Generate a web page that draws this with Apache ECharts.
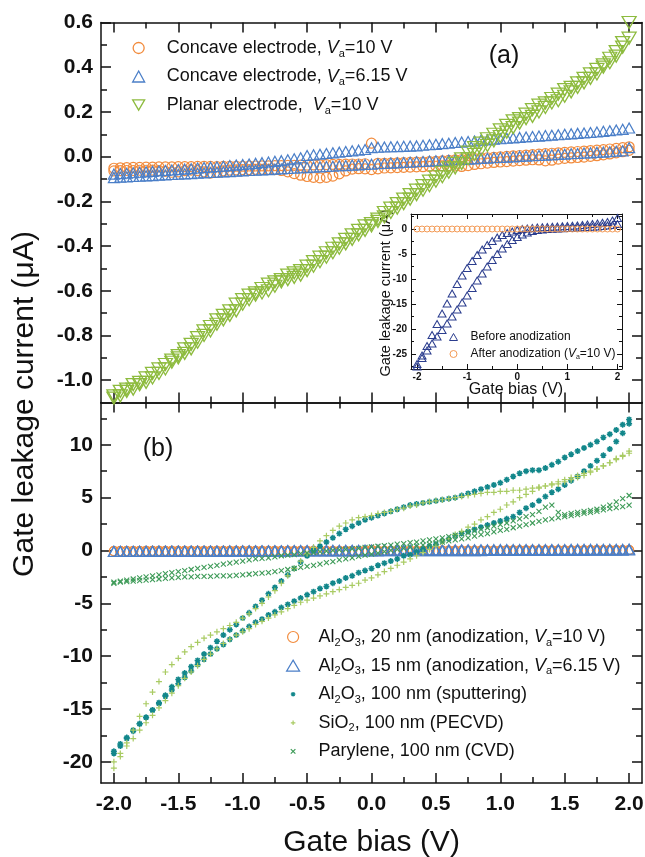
<!DOCTYPE html>
<html>
<head>
<meta charset="utf-8">
<script src="https://cdn.jsdelivr.net/npm/echarts@6/dist/echarts.min.js"></script>
<style>
  html, body { margin: 0; padding: 0; background: #fff; }
  #chart { width: 645px; height: 857px; }
</style>
</head>
<body>
<div id="chart"></div>
<script>
// Gate bias sweep (V), 0.05 V step
const BIAS = [
  -2.00,-1.95,-1.90,-1.85,-1.80,-1.75,-1.70,-1.65,-1.60,-1.55,
  -1.50,-1.45,-1.40,-1.35,-1.30,-1.25,-1.20,-1.15,-1.10,-1.05,
  -1.00,-0.95,-0.90,-0.85,-0.80,-0.75,-0.70,-0.65,-0.60,-0.55,
  -0.50,-0.45,-0.40,-0.35,-0.30,-0.25,-0.20,-0.15,-0.10,-0.05,
   0.00, 0.05, 0.10, 0.15, 0.20, 0.25, 0.30, 0.35, 0.40, 0.45,
   0.50, 0.55, 0.60, 0.65, 0.70, 0.75, 0.80, 0.85, 0.90, 0.95,
   1.00, 1.05, 1.10, 1.15, 1.20, 1.25, 1.30, 1.35, 1.40, 1.45,
   1.50, 1.55, 1.60, 1.65, 1.70, 1.75, 1.80, 1.85, 1.90, 1.95,
   2.00
];

// (a) Concave electrode, Va = 10 V (uA), forward / reverse sweeps
const CONCAVE_10V_FWD = [
  -0.052,-0.050,-0.049,-0.048,-0.048,-0.047,-0.047,-0.046,-0.046,-0.046,
  -0.045,-0.045,-0.045,-0.044,-0.044,-0.044,-0.045,-0.044,-0.043,-0.043,
  -0.043,-0.042,-0.042,-0.041,-0.041,-0.040,-0.040,-0.039,-0.039,-0.038,
  -0.038,-0.037,-0.037,-0.036,-0.035,-0.035,-0.034,-0.033,-0.033,-0.032,
   0.060,-0.030,-0.030,-0.029,-0.028,-0.027,-0.026,-0.025,-0.024,-0.022,
  -0.021,-0.019,-0.017,-0.015,-0.013,-0.011,-0.009,-0.007,-0.005,-0.003,
  -0.001, 0.001, 0.003, 0.005, 0.007, 0.009, 0.011, 0.013, 0.015, 0.017,
   0.019, 0.021, 0.023, 0.025, 0.027, 0.029, 0.031, 0.034, 0.037, 0.040,
   0.044
];
const CONCAVE_10V_REV = [
  -0.064,-0.063,-0.062,-0.062,-0.061,-0.061,-0.060,-0.062,-0.066,-0.070,
  -0.068,-0.063,-0.060,-0.063,-0.068,-0.074,-0.071,-0.064,-0.060,-0.059,
  -0.058,-0.058,-0.057,-0.057,-0.057,-0.058,-0.062,-0.068,-0.076,-0.083,
  -0.089,-0.093,-0.095,-0.093,-0.087,-0.077,-0.064,-0.056,-0.054,-0.055,
  -0.058,-0.055,-0.051,-0.050,-0.049,-0.048,-0.047,-0.046,-0.045,-0.044,
  -0.043,-0.041,-0.040,-0.042,-0.044,-0.040,-0.035,-0.032,-0.029,-0.026,
  -0.024,-0.022,-0.020,-0.018,-0.016,-0.014,-0.015,-0.019,-0.016,-0.011,
  -0.008,-0.006,-0.004,-0.002, 0.001, 0.004, 0.008, 0.012, 0.017, 0.022,
   0.028
];

// (a) Concave electrode, Va = 6.15 V (uA)
const CONCAVE_615V_FWD = [
  -0.078,-0.076,-0.074,-0.072,-0.070,-0.068,-0.066,-0.064,-0.062,-0.060,
  -0.058,-0.056,-0.054,-0.051,-0.049,-0.047,-0.045,-0.043,-0.040,-0.038,
  -0.035,-0.033,-0.030,-0.027,-0.024,-0.021,-0.018,-0.014,-0.010,-0.005,
   0.005, 0.008, 0.011, 0.014, 0.017, 0.020, 0.023, 0.026, 0.029, 0.032,
   0.040, 0.042, 0.043, 0.044, 0.045, 0.046, 0.047, 0.048, 0.051, 0.053,
   0.055, 0.058, 0.060, 0.063, 0.065, 0.068, 0.070, 0.073, 0.075, 0.078,
   0.080, 0.082, 0.084, 0.086, 0.088, 0.090, 0.092, 0.094, 0.096, 0.098,
   0.100, 0.102, 0.104, 0.106, 0.108, 0.110, 0.113, 0.116, 0.119, 0.122,
   0.128
];
const CONCAVE_615V_REV = [
  -0.094,-0.092,-0.091,-0.089,-0.088,-0.086,-0.085,-0.083,-0.082,-0.080,
  -0.079,-0.077,-0.076,-0.074,-0.073,-0.071,-0.070,-0.068,-0.067,-0.065,
  -0.064,-0.062,-0.061,-0.059,-0.058,-0.056,-0.055,-0.053,-0.052,-0.050,
  -0.049,-0.047,-0.046,-0.044,-0.043,-0.041,-0.040,-0.038,-0.037,-0.035,
  -0.034,-0.032,-0.031,-0.029,-0.028,-0.026,-0.025,-0.023,-0.022,-0.020,
  -0.019,-0.017,-0.016,-0.014,-0.013,-0.011,-0.010,-0.008,-0.007,-0.005,
  -0.004,-0.002,-0.001, 0.001, 0.002, 0.004, 0.005, 0.007, 0.008, 0.010,
   0.011, 0.013, 0.014, 0.016, 0.017, 0.019, 0.020, 0.022, 0.024, 0.026,
   0.040
];

// (a) Planar electrode, Va = 10 V (uA)
const PLANAR_10V_FWD = [
  -1.07,-1.05,-1.04,-1.02,-1.01,-0.99,-0.97,-0.95,-0.93,-0.91,
  -0.89,-0.86,-0.84,-0.81,-0.78,-0.76,-0.73,-0.71,-0.69,-0.66,
  -0.64,-0.62,-0.61,-0.59,-0.57,-0.56,-0.55,-0.53,-0.52,-0.51,
  -0.49,-0.47,-0.45,-0.43,-0.41,-0.39,-0.37,-0.35,-0.33,-0.31,
  -0.30,-0.28,-0.25,-0.23,-0.21,-0.19,-0.17,-0.15,-0.13,-0.11,
  -0.09,-0.07,-0.05,-0.03,-0.01, 0.02, 0.04, 0.06, 0.08, 0.10,
   0.12, 0.14, 0.16, 0.17, 0.19, 0.21, 0.23, 0.24, 0.26, 0.28,
   0.30, 0.31, 0.33, 0.35, 0.37, 0.39, 0.41, 0.44, 0.47, 0.51,
   0.60
];
const PLANAR_10V_REV = [
  -1.08,-1.07,-1.05,-1.04,-1.02,-1.01,-0.99,-0.97,-0.95,-0.92,
  -0.90,-0.88,-0.86,-0.83,-0.80,-0.78,-0.75,-0.73,-0.71,-0.69,
  -0.66,-0.64,-0.62,-0.61,-0.60,-0.58,-0.56,-0.55,-0.54,-0.53,
  -0.51,-0.49,-0.47,-0.45,-0.43,-0.41,-0.39,-0.37,-0.35,-0.33,
  -0.31,-0.29,-0.27,-0.25,-0.23,-0.21,-0.19,-0.17,-0.15,-0.13,
  -0.11,-0.09,-0.07,-0.05,-0.03,-0.01, 0.01, 0.03, 0.05, 0.07,
   0.09, 0.11, 0.13, 0.15, 0.17, 0.18, 0.20, 0.22, 0.24, 0.25,
   0.27, 0.29, 0.31, 0.33, 0.35, 0.37, 0.40, 0.42, 0.45, 0.49,
   0.53
];

// (b) Al2O3 100 nm, sputtering (uA)
const SPUTTER_FWD = [
  -19.2,-18.5,-17.8,-17.1,-16.4,-15.8,-15.1,-14.4,-13.7,-12.9,
  -12.2,-11.6,-11.0,-10.4, -9.8, -9.2, -8.6, -8.0, -7.5, -7.0,
   -6.4, -5.9, -5.3, -4.7, -4.1, -3.5, -2.9, -2.3, -1.7, -1.1,
   -0.5,  0.0,  0.4,  0.8,  1.2,  1.6,  2.0,  2.3,  2.6,  2.9,
    3.1,  3.3,  3.5,  3.7,  3.9,  4.1,  4.3,  4.4,  4.5,  4.6,
    4.7,  4.8,  4.9,  5.0,  5.2,  5.4,  5.6,  5.8,  6.0,  6.2,
    6.4,  6.7,  7.0,  7.3,  7.5,  7.6,  7.6,  7.8,  8.1,  8.4,
    8.8,  9.1,  9.4,  9.7, 10.0, 10.3, 10.7, 11.0, 11.4, 11.9,
   12.4
];
const SPUTTER_REV = [
  -19.0,-18.3,-17.7,-17.0,-16.4,-15.8,-15.1,-14.5,-13.8,-13.2,
  -12.6,-12.0,-11.4,-10.8,-10.3, -9.8, -9.3, -8.9, -8.4, -8.0,
   -7.6, -7.2, -6.8, -6.5, -6.1, -5.8, -5.4, -5.1, -4.8, -4.5,
   -4.2, -3.9, -3.6, -3.4, -3.1, -2.9, -2.6, -2.4, -2.1, -1.9,
   -1.7, -1.4, -1.2, -1.0, -0.8, -0.5, -0.4, -0.1,  0.1,  0.4,
    0.6,  0.9,  1.1,  1.4,  1.6,  1.8,  2.0,  2.2,  2.4,  2.6,
    2.8,  3.0,  3.2,  3.6,  4.0,  4.3,  4.7,  5.1,  5.5,  5.8,
    6.2,  6.6,  7.0,  7.5,  8.0,  8.5,  9.0,  9.6, 10.3, 11.1,
   12.0
];

// (b) SiO2 100 nm, PECVD (uA)
const SIO2_FWD = [
  -20.6,-19.5,-18.2,-17.0,-15.7,-14.5,-13.4,-12.4,-11.5,-10.8,
  -10.2, -9.6, -9.1, -8.7, -8.3, -8.0, -7.7, -7.4, -7.1, -6.8,
   -6.4, -6.0, -5.5, -5.0, -4.4, -3.8, -3.1, -2.4, -1.7, -1.0,
   -0.3,  0.3,  0.9,  1.4,  1.9,  2.3,  2.6,  2.9,  3.1,  3.2,
    3.3,  3.5,  3.6,  3.7,  3.9,  4.0,  4.2,  4.3,  4.5,  4.6,
    4.7,  4.8,  4.9,  5.0,  5.1,  5.2,  5.3,  5.4,  5.5,  5.5,
    5.6,  5.6,  5.7,  5.7,  5.8,  5.9,  6.0,  6.1,  6.2,  6.3,
    6.5,  6.7,  6.9,  7.1,  7.4,  7.7,  8.0,  8.3,  8.7,  9.0,
    9.4
];
const SIO2_REV = [
  -20.0,-19.2,-18.5,-17.8,-17.0,-16.3,-15.6,-14.9,-14.2,-13.5,
  -12.8,-12.1,-11.5,-10.9,-10.3, -9.8, -9.3, -8.8, -8.4, -8.0,
   -7.7, -7.4, -7.0, -6.7, -6.4, -6.1, -5.8, -5.5, -5.2, -4.9,
   -4.7, -4.5, -4.3, -4.1, -3.9, -3.7, -3.5, -3.3, -3.1, -2.8,
   -2.6, -2.3, -2.0, -1.7, -1.4, -1.1, -0.8, -0.5, -0.2,  0.1,
    0.4,  0.8,  1.1,  1.5,  1.8,  2.2,  2.5,  2.9,  3.2,  3.6,
    3.9,  4.3,  4.6,  5.0,  5.3,  5.6,  5.9,  6.1,  6.3,  6.5,
    6.7,  6.9,  7.1,  7.3,  7.5,  7.7,  8.0,  8.3,  8.6,  8.9,
    9.2
];

// (b) Parylene 100 nm, CVD (uA)
const PARYLENE_FWD = [
  -3.0, -2.9, -2.8, -2.7, -2.6, -2.5, -2.4, -2.3, -2.2, -2.1,
  -2.0, -1.9, -1.8, -1.7, -1.6, -1.5, -1.4, -1.3, -1.2, -1.1,
  -1.0, -0.9, -0.8, -0.75,-0.7, -0.6, -0.5, -0.45,-0.4, -0.3,
  -0.25,-0.2, -0.1, -0.05, 0.0,  0.05, 0.1,  0.15, 0.2,  0.3,
   0.35, 0.4,  0.45, 0.5,  0.6,  0.65, 0.75, 0.8,  0.9,  1.0,
   1.1,  1.2,  1.3,  1.45, 1.6,  1.7,  1.85, 2.0,  2.15, 2.3,
   2.45, 2.6,  2.8,  3.0,  3.2,  3.4,  3.7,  4.1,  4.3,  3.6,
   3.4,  3.5,  3.6,  3.7,  3.8,  3.9,  4.1,  4.3,  4.6,  4.9,
   5.2
];
const PARYLENE_REV = [
  -3.1, -3.0, -2.95,-2.9, -2.85,-2.8, -2.75,-2.7, -2.65,-2.6,
  -2.55,-2.5, -2.5, -2.45,-2.45,-2.45,-2.4, -2.4, -2.4, -2.35,
  -2.3, -2.25,-2.2, -2.15,-2.1, -2.0, -1.9, -1.8, -1.7, -1.6,
  -1.5, -1.4, -1.3, -1.15,-1.05,-0.9, -0.8, -0.7, -0.55,-0.45,
  -0.35,-0.25,-0.1,  0.0,  0.1,  0.2,  0.3,  0.4,  0.5,  0.6,
   0.7,  0.8,  0.9,  1.0,  1.1,  1.2,  1.35, 1.5,  1.6,  1.75,
   1.9,  2.0,  2.15, 2.3,  2.45, 2.6,  2.75, 2.9,  3.0,  3.1,
   3.2,  3.3,  3.4,  3.5,  3.6,  3.7,  3.85, 3.95, 4.05, 4.15,
   4.3
];

// Inset: bias sweep with 0.1 V step
const INSET_BIAS = [
  -2.0,-1.9,-1.8,-1.7,-1.6,-1.5,-1.4,-1.3,-1.2,-1.1,
  -1.0,-0.9,-0.8,-0.7,-0.6,-0.5,-0.4,-0.3,-0.2,-0.1,
   0.0, 0.1, 0.2, 0.3, 0.4, 0.5, 0.6, 0.7, 0.8, 0.9,
   1.0, 1.1, 1.2, 1.3, 1.4, 1.5, 1.6, 1.7, 1.8, 1.9,
   2.0
];
const INSET_BEFORE_FWD = [
  -27.0,-25.3,-23.4,-21.2,-19.0,-16.9,-14.9,-12.9,-11.0, -9.3,
   -7.8, -6.4, -5.2, -4.1, -3.2, -2.4, -1.7, -1.2, -0.8, -0.5,
   -0.2,  0.0,  0.1,  0.2,  0.3,  0.35, 0.4,  0.45, 0.5,  0.55,
    0.6,  0.65, 0.7,  0.8,  0.9,  1.0,  1.1,  1.25, 1.4,  1.7,
    2.2
];
const INSET_BEFORE_REV = [
  -27.5,-25.8,-24.3,-22.9,-21.5,-20.2,-18.9,-17.5,-16.1,-14.7,
  -13.3,-11.8,-10.3, -8.9, -7.5, -6.2, -5.0, -3.9, -3.0, -2.2,
   -1.6, -1.1, -0.7, -0.4, -0.2, -0.1,  0.0,  0.05, 0.1,  0.15,
    0.2,  0.25, 0.3,  0.35, 0.4,  0.45, 0.5,  0.6,  0.7,  0.8,
    1.0
];
const INSET_AFTER = [
  0.0, 0.0, 0.0, 0.0, 0.0, 0.0, 0.0, 0.0, 0.0, 0.0,
  0.0, 0.0, 0.0, 0.0, 0.0, 0.0, 0.0, 0.0, 0.0, 0.0,
  0.0, 0.0, 0.0, 0.0, 0.0, 0.0, 0.0, 0.0, 0.0, 0.0,
  0.0, 0.0, 0.0, 0.0, 0.0, 0.0, 0.0, 0.0, 0.0, 0.0,
  0.0
];

// Tick positions
const X_MAJOR = [-2.0, -1.5, -1.0, -0.5, 0.0, 0.5, 1.0, 1.5, 2.0];
const X_MINOR = [-1.75, -1.25, -0.75, -0.25, 0.25, 0.75, 1.25, 1.75];
const TOP_Y_MAJOR = [-1.0, -0.8, -0.6, -0.4, -0.2, 0.0, 0.2, 0.4, 0.6];
const TOP_Y_MINOR = [-0.9, -0.7, -0.5, -0.3, -0.1, 0.1, 0.3, 0.5];
const BOT_Y_MAJOR = [-20, -15, -10, -5, 0, 5, 10];
const BOT_Y_MINOR = [-17.5, -12.5, -7.5, -2.5, 2.5, 7.5, 12.5];
const INSET_X_MAJOR = [-2, -1, 0, 1, 2];
const INSET_X_MINOR = [-1.5, -0.5, 0.5, 1.5];
const INSET_Y_MAJOR = [-25, -20, -15, -10, -5, 0];
const INSET_Y_MINOR = [-27.5, -22.5, -17.5, -12.5, -7.5, -2.5, 2.5];

const FONT = '"Liberation Sans", Arial, Helvetica, sans-serif';
const INK = '#111111';
const COL = {
  orange: '#F28B3C',
  blue: '#4B7FC8',
  green: '#8DBB3E',
  teal: '#12878B',
  sio2: '#A9CB63',
  parylene: '#3E9B58',
  navy: '#2B3D8E',
  orangeLight: '#F39A55'
};
const SYM = {
  down: 'path://M0,0L10,0L5,8.66Z',
  star: 'path://M0,5L10,5M5,0L5,10M1.5,1.5L8.5,8.5M1.5,8.5L8.5,1.5',
  plus: 'path://M0,5L10,5M5,0L5,10',
  cross: 'path://M0,0L10,10M0,10L10,0'
};
// legend icons for the small markers keep empty room round the glyph
const ICON = {
  star: 'path://M-7,-7M17,17M0,5L10,5M5,0L5,10M1.5,1.5L8.5,8.5M1.5,8.5L8.5,1.5',
  plus: 'path://M-7,-7M17,17M0,5L10,5M5,0L5,10',
  cross: 'path://M-7,-7M17,17M0,0L10,10M0,10L10,0'
};

const xAxes = [];
const yAxes = [];

// Boxed frame with inward major/minor ticks on all four sides
function addFrame(gi, xr, yr, s) {
  const line = show => ({ show, onZero: false, lineStyle: { color: INK, width: s.lw } });
  const tick = (vals, len) => ({ show: true, inside: true, length: len, customValues: vals,
    lineStyle: { color: INK, width: s.lw } });
  const label = (vals, cfg) => cfg
    ? Object.assign({ show: true, customValues: vals, color: INK, fontFamily: FONT, fontWeight: 'bold' }, cfg)
    : { show: false };
  const common = { type: 'value', gridIndex: gi, splitLine: { show: false }, offset: 0, silent: true };
  const ix = xAxes.length, iy = yAxes.length;
  [['bottom', s.xMajor, s.major, s.xLabel, true],
   ['bottom', s.xMinor, s.minor, null, false],
   ['top', s.xMajor, s.major, null, true],
   ['top', s.xMinor, s.minor, null, false]].forEach(([pos, vals, len, lab, showLine]) => {
    xAxes.push(Object.assign({}, common, { min: xr[0], max: xr[1], position: pos,
      axisLine: line(showLine), axisTick: tick(vals, len), axisLabel: label(vals, lab) }));
  });
  [['left', s.yMajor, s.major, s.yLabel, true],
   ['left', s.yMinor, s.minor, null, false],
   ['right', s.yMajor, s.major, null, true],
   ['right', s.yMinor, s.minor, null, false]].forEach(([pos, vals, len, lab, showLine]) => {
    yAxes.push(Object.assign({}, common, { min: yr[0], max: yr[1], position: pos,
      axisLine: line(showLine), axisTick: tick(vals, len), axisLabel: label(vals, lab) }));
  });
  return { x: ix, y: iy };
}

const fmt1 = v => Number(v).toFixed(1);
const fmt0 = v => String(Math.round(v));

const topAx = addFrame(0, [-2.1, 2.1], [-1.1, 0.6], {
  lw: 1.5, major: 10, minor: 6,
  xMajor: X_MAJOR, xMinor: X_MINOR, yMajor: TOP_Y_MAJOR, yMinor: TOP_Y_MINOR,
  xLabel: null,
  yLabel: { fontSize: 21, margin: 8, formatter: fmt1 }
});
const botAx = addFrame(1, [-2.1, 2.1], [-22, 14], {
  lw: 1.5, major: 10, minor: 6,
  xMajor: X_MAJOR, xMinor: X_MINOR, yMajor: BOT_Y_MAJOR, yMinor: BOT_Y_MINOR,
  xLabel: { fontSize: 21, margin: 11, formatter: fmt1 },
  yLabel: { fontSize: 21, margin: 8, formatter: fmt0 }
});
const insAx = addFrame(2, [-2.12, 2.09], [-28, 3], {
  lw: 1, major: 5, minor: 3,
  xMajor: INSET_X_MAJOR, xMinor: INSET_X_MINOR, yMajor: INSET_Y_MAJOR, yMinor: INSET_Y_MINOR,
  xLabel: { fontSize: 10, margin: 3, formatter: fmt0 },
  yLabel: { fontSize: 10, margin: 4, formatter: fmt0 }
});

function sweep(xs, fwd, rev) {
  const pts = xs.map((x, i) => [x, fwd[i]]);
  return rev ? pts.concat(xs.map((x, i) => [x, rev[i]])) : pts;
}
function scatter(name, ax, data, symbol, size, color, bw) {
  return {
    type: 'scatter', name, xAxisIndex: ax.x, yAxisIndex: ax.y, data,
    symbol, symbolSize: size, silent: true,
    itemStyle: { color: 'transparent', borderColor: color, borderWidth: bw, opacity: 1 }
  };
}

const N = {
  a1: 'Concave electrode, Va=10 V',
  a2: 'Concave electrode, Va=6.15 V',
  a3: 'Planar electrode, Va=10 V',
  b1: 'Al2O3, 20 nm (anodization, Va=10 V)',
  b2: 'Al2O3, 15 nm (anodization, Va=6.15 V)',
  b3: 'Al2O3, 100 nm (sputtering)',
  b4: 'SiO2, 100 nm (PECVD)',
  b5: 'Parylene, 100 nm (CVD)',
  i1: 'Before anodization',
  i2: 'After anodization (Va=10 V)'
};
const RICH_LABEL = {
  [N.a1]: '{sp| }{n|Concave electrode, }{it|V}{sub|a}{n|=10 V}',
  [N.a2]: '{sp| }{n|Concave electrode, }{it|V}{sub|a}{n|=6.15 V}',
  [N.a3]: '{sp| }{n|Planar electrode,  }{it|V}{sub|a}{n|=10 V}',
  [N.b1]: '{sp| }{n|Al}{sub|2}{n|O}{sub|3}{n|, 20 nm (anodization, }{it|V}{sub|a}{n|=10 V)}',
  [N.b2]: '{sp| }{n|Al}{sub|2}{n|O}{sub|3}{n|, 15 nm (anodization, }{it|V}{sub|a}{n|=6.15 V)}',
  [N.b3]: '{sp| }{n|Al}{sub|2}{n|O}{sub|3}{n|, 100 nm (sputtering)}',
  [N.b4]: '{sp| }{n|SiO}{sub|2}{n|, 100 nm (PECVD)}',
  [N.b5]: '{sp| }{n|Parylene, 100 nm (CVD)}',
  [N.i1]: '{sp| }{n|Before anodization}',
  [N.i2]: '{sp| }{n|After anodization (}{it|V}{sub|a}{n|=10 V)}'
};
function rich(size, lh, spacer) {
  const sub = Math.round(size * 0.6);
  return {
    sp: { width: spacer, fontSize: size, lineHeight: lh },
    n: { fontSize: size, lineHeight: lh, fontFamily: FONT, color: INK },
    it: { fontSize: size, lineHeight: lh, fontFamily: FONT, fontStyle: 'italic', color: INK },
    sub: { fontSize: sub, lineHeight: sub, fontFamily: FONT, color: INK, verticalAlign: 'bottom' }
  };
}
function legend(names, left, top, iw, ih, gap, size, lh, spacer, bw, icons) {
  return {
    orient: 'vertical', left, top, itemWidth: iw, itemHeight: ih, itemGap: gap,
    selectedMode: false, padding: 0,
    data: names.map(n => icons && icons[n] ? { name: n, icon: icons[n] } : { name: n }),
    formatter: n => RICH_LABEL[n],
    itemStyle: { borderWidth: bw },
    textStyle: { fontFamily: FONT, fontSize: size, lineHeight: lh, color: INK, rich: rich(size, lh, spacer) }
  };
}

const series = [
  scatter(N.a1, topAx, sweep(BIAS, CONCAVE_10V_FWD, CONCAVE_10V_REV), 'circle', 10, COL.orange, 1.2),
  scatter(N.a2, topAx, sweep(BIAS, CONCAVE_615V_FWD, CONCAVE_615V_REV), 'triangle', [11, 10], COL.blue, 1.2),
  scatter(N.a3, topAx, sweep(BIAS, PLANAR_10V_FWD, PLANAR_10V_REV), SYM.down, [14, 12], COL.green, 1.3),
  scatter(N.b1, botAx, sweep(BIAS, CONCAVE_10V_FWD, CONCAVE_10V_REV), 'circle', 9, COL.orange, 1.2),
  scatter(N.b2, botAx, sweep(BIAS, CONCAVE_615V_FWD, CONCAVE_615V_REV), 'triangle', [11, 10], COL.blue, 1.2),
  scatter(N.b3, botAx, sweep(BIAS, SPUTTER_FWD, SPUTTER_REV), SYM.star, 6, COL.teal, 1.5),
  scatter(N.b4, botAx, sweep(BIAS, SIO2_FWD, SIO2_REV), SYM.plus, 6, COL.sio2, 1.2),
  scatter(N.b5, botAx, sweep(BIAS, PARYLENE_FWD, PARYLENE_REV), SYM.cross, 5, COL.parylene, 1.1),
  scatter(N.i1, insAx, sweep(INSET_BIAS, INSET_BEFORE_FWD, INSET_BEFORE_REV), 'triangle', [8, 7], COL.navy, 1),
  scatter(N.i2, insAx, sweep(INSET_BIAS, INSET_AFTER), 'circle', 6, COL.orangeLight, 1)
];

const text = (x, y, str, size, rot) => ({
  type: 'text', x, y, rotation: rot || 0, silent: true,
  style: { text: str, font: size + 'px ' + FONT, fill: INK, align: 'center', verticalAlign: 'middle' }
});

const chart = echarts.init(document.getElementById('chart'), null, { renderer: 'canvas' });
chart.setOption({
  animation: false,
  backgroundColor: '#ffffff',
  grid: [
    { left: 101, top: 22.5, width: 541, height: 380, outerBoundsMode: 'none' },
    { left: 101, top: 402.5, width: 541, height: 380.5, outerBoundsMode: 'none' },
    { left: 411, top: 214, width: 211, height: 155, outerBoundsMode: 'none',
      show: true, backgroundColor: '#ffffff', borderWidth: 0 }
  ],
  xAxis: xAxes,
  yAxis: yAxes,
  legend: [
    legend([N.a1, N.a2, N.a3], 132, 37, 12, 11, 6.5, 18, 22, 17, 1.3),
    legend([N.b1, N.b2, N.b3, N.b4, N.b5], 286, 626, 13, 11, 6.6, 18, 22, 14, 1.2,
      { [N.b3]: ICON.star, [N.b4]: ICON.plus, [N.b5]: ICON.cross }),
    legend([N.i1, N.i2], 449, 330, 8, 7, 3, 12, 14, 8, 1)
  ],
  graphic: [
    text(25, 404, 'Gate leakage current (\u03bcA)', 30, Math.PI / 2),
    text(371.5, 843, 'Gate bias (V)', 30),
    text(504, 56, '(a)', 25),
    text(158, 449, '(b)', 25),
    text(386, 293, 'Gate leakage current (\u03bcA)', 14.5, Math.PI / 2),
    text(516, 390, 'Gate bias (V)', 16)
  ],
  series
});
</script>
</body>
</html>
